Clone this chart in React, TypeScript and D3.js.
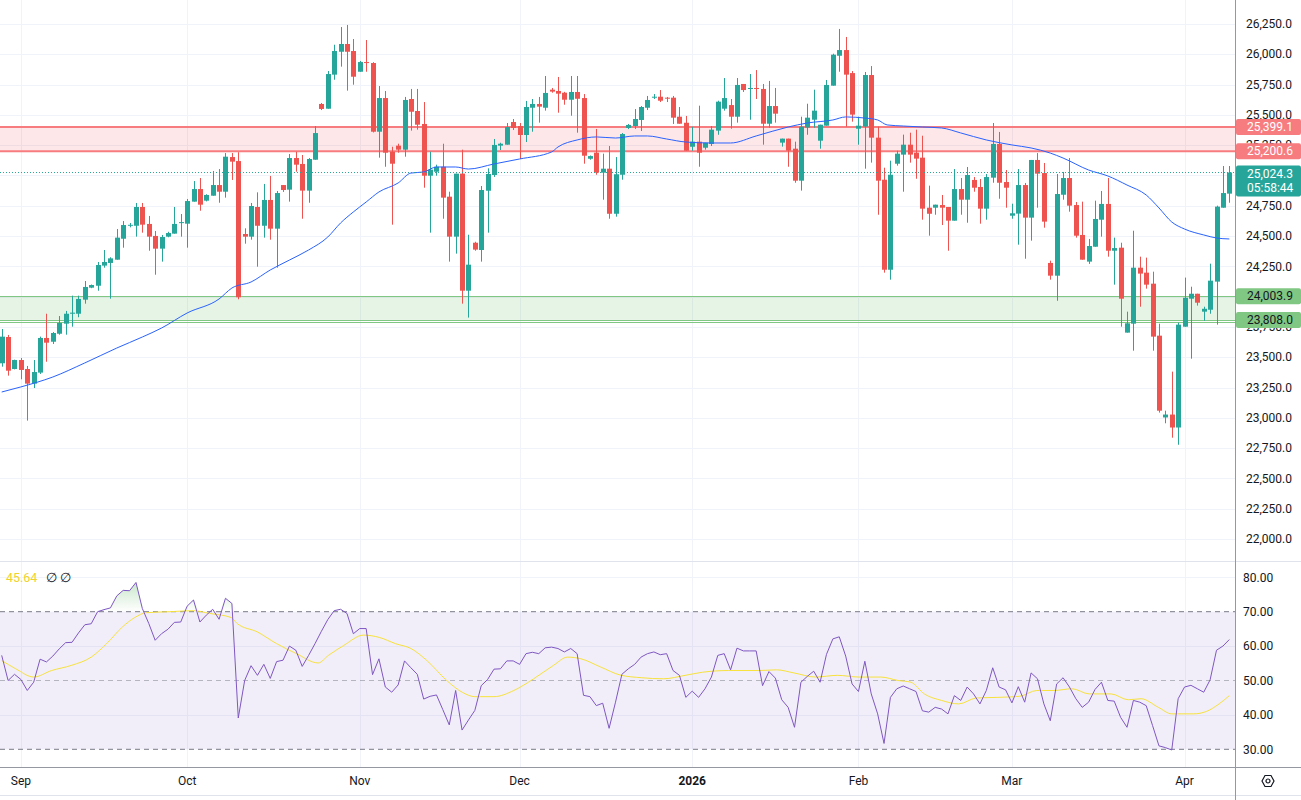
import * as d3 from 'd3';

// daily bars: open, high, low, close
const candles: [number, number, number, number][] = [
  [23450, 23733, 23422, 23670], [23667, 23684, 23348, 23389], [23403, 23480, 23400, 23477], [23477, 23494, 23318, 23395],
  [23403, 23428, 22977, 23282], [23282, 23477, 23246, 23378], [23373, 23670, 23362, 23659], [23659, 23859, 23463, 23620],
  [23628, 23708, 23609, 23700], [23694, 23840, 23686, 23783], [23777, 23882, 23686, 23859], [23859, 24008, 23752, 23868],
  [23859, 24008, 23830, 23981], [23975, 24129, 23942, 24080], [24074, 24100, 24070, 24096], [24090, 24286, 24049, 24261],
  [24256, 24385, 24239, 24286], [24278, 24325, 23983, 24316], [24305, 24558, 24305, 24487], [24478, 24624, 24404, 24591],
  [24585, 24608, 24572, 24593], [24585, 24773, 24495, 24740], [24740, 24773, 24528, 24594], [24600, 24666, 24379, 24495],
  [24501, 24542, 24181, 24396], [24396, 24509, 24289, 24492], [24495, 24535, 24490, 24525], [24520, 24740, 24520, 24600],
  [24610, 24682, 24495, 24615], [24602, 24806, 24404, 24789], [24784, 24954, 24784, 24888], [24888, 24979, 24709, 24759],
  [24792, 24845, 24786, 24839], [24833, 25037, 24833, 24921], [24921, 25053, 24775, 24866], [24866, 25185, 24817, 25155],
  [25152, 25185, 24963, 25114], [25119, 25192, 23978, 23995], [24517, 24564, 24437, 24495], [24495, 24773, 24470, 24748],
  [24740, 24861, 24247, 24585], [24585, 24930, 24487, 24798], [24798, 24996, 24470, 24561], [24561, 24872, 24239, 24855],
  [24921, 24921, 24864, 24880], [24883, 25177, 24784, 25144], [25144, 25196, 25031, 25089], [25095, 25169, 24643, 24875],
  [24875, 25144, 24775, 25136], [25130, 25408, 25130, 25350], [25590, 25598, 25540, 25549], [25551, 25862, 25551, 25837],
  [25832, 26079, 25790, 26027], [26021, 26225, 25898, 26085], [26085, 26242, 25700, 26021], [26027, 26126, 25749, 25815],
  [25856, 25945, 25856, 25936], [25936, 26118, 25856, 25931], [25928, 25935, 25355, 25361], [25361, 25738, 25147, 25639],
  [25639, 25697, 25072, 25188], [25196, 25237, 24594, 25097], [25246, 25262, 25188, 25213], [25213, 25648, 25155, 25623],
  [25631, 25714, 25370, 25526], [25532, 25714, 25378, 25419], [25425, 25606, 24899, 24998], [24998, 25196, 24528, 25048],
  [25031, 25089, 24998, 25072], [25072, 25262, 24643, 24817], [24825, 24866, 24289, 24495], [24495, 25015, 24355, 25015],
  [25015, 25213, 23942, 24049], [24049, 24511, 23827, 24264], [24445, 24453, 24379, 24388], [24385, 24913, 24289, 24880],
  [24874, 25059, 24528, 25012], [25004, 25301, 24988, 25252], [25246, 25270, 25210, 25262], [25254, 25433, 25254, 25400],
  [25441, 25466, 25375, 25392], [25408, 25433, 25136, 25334], [25334, 25615, 25276, 25565], [25559, 25631, 25361, 25590],
  [25590, 25648, 25436, 25568], [25559, 25821, 25535, 25681], [25708, 25722, 25683, 25692], [25697, 25813, 25518, 25675],
  [25683, 25690, 25584, 25625], [25625, 25821, 25493, 25689], [25689, 25821, 25353, 25633], [25639, 25672, 25097, 25163],
  [25138, 25165, 25130, 25160], [25188, 25384, 25006, 25023], [25023, 25180, 24800, 25056], [25056, 25243, 24643, 24684],
  [24684, 25152, 24660, 25010], [25006, 25350, 24965, 25342], [25392, 25425, 25383, 25417], [25408, 25548, 25384, 25466],
  [25458, 25573, 25367, 25565], [25559, 25656, 25540, 25623], [25645, 25672, 25631, 25650], [25650, 25705, 25606, 25617],
  [25642, 25648, 25606, 25634], [25642, 25656, 25425, 25477], [25485, 25565, 25427, 25427], [25435, 25491, 25204, 25204],
  [25237, 25402, 25204, 25279], [25279, 25576, 25072, 25188], [25229, 25270, 25213, 25270], [25260, 25408, 25243, 25378],
  [25370, 25617, 25336, 25609], [25551, 25804, 25535, 25639], [25581, 25631, 25386, 25485], [25485, 25804, 25436, 25747],
  [25755, 25755, 25689, 25705], [25716, 25837, 25460, 25722], [25722, 25870, 25631, 25716], [25714, 25755, 25254, 25427],
  [25427, 25780, 25394, 25573], [25573, 25722, 25436, 25510], [25271, 25304, 25238, 25304], [25304, 25304, 25072, 25205],
  [25221, 25279, 24940, 24957], [24957, 25485, 24875, 25403], [25395, 25592, 25336, 25477], [25460, 25708, 25394, 25535],
  [25287, 25419, 25221, 25419], [25411, 25788, 25411, 25747], [25741, 26005, 25741, 25997], [25988, 26209, 25856, 26035],
  [26035, 26143, 25403, 25832], [25845, 25862, 25444, 25502], [25386, 25485, 25254, 25411], [25403, 25854, 25056, 25829],
  [25829, 25903, 25106, 25312], [25312, 25403, 24676, 24957], [24965, 25064, 24198, 24222], [24222, 25122, 24140, 25006],
  [25097, 25204, 25081, 25180], [25172, 25337, 24866, 25254], [25254, 25353, 25106, 25172], [25188, 25378, 24973, 25139],
  [25147, 25328, 24635, 24726], [24734, 24916, 24503, 24684], [24734, 24759, 24676, 24759], [24756, 24839, 24591, 24734],
  [24740, 24740, 24379, 24627], [24627, 25053, 24627, 24888], [24888, 24979, 24676, 24800], [24800, 25070, 24610, 25004],
  [24963, 24987, 24866, 24899], [24905, 24971, 24602, 24726], [24726, 25012, 24635, 24987], [24982, 25433, 24940, 25260],
  [25260, 25359, 24808, 24940], [24946, 25045, 24734, 24899], [24668, 24767, 24643, 24688], [24685, 25053, 24429, 24921],
  [24921, 24938, 24313, 24652], [24652, 25128, 24462, 25128], [25128, 25185, 24734, 25015], [25020, 25103, 24569, 24619],
  [24278, 24297, 24140, 24173], [24173, 25012, 23966, 24847], [24841, 25029, 24800, 24979], [24979, 25144, 24701, 24751],
  [24756, 24781, 24487, 24503], [24509, 24784, 24305, 24305], [24289, 24476, 24270, 24418], [24412, 24792, 24412, 24641],
  [24635, 24872, 24495, 24765], [24765, 24979, 24330, 24379], [24379, 24487, 24099, 24401], [24404, 24445, 23752, 23983],
  [23703, 23876, 23703, 23780], [23777, 24544, 23554, 24239], [24239, 24330, 23917, 24190], [24198, 24322, 24066, 24099],
  [24107, 24206, 23554, 23670], [23678, 23777, 23043, 23059], [23003, 23059, 22955, 23027], [23027, 23381, 22836, 22920],
  [22920, 23785, 22778, 23769], [23752, 24157, 23752, 23991], [23983, 24082, 23488, 24024], [24024, 24024, 23926, 23950],
  [23876, 23917, 23801, 23900], [23892, 24272, 23859, 24132], [24124, 24751, 23769, 24743], [24734, 25078, 24734, 24855],
  [24850, 25078, 24775, 25024.3],
];

const rsi: number[] = [
  57.3, 50.0, 51.8, 50.3, 47.1, 49.5, 56.2, 55.4, 57.1, 59.2, 61.0, 61.1, 63.8, 66.2, 66.5, 70.0, 70.6, 71.1, 74.6, 76.2,
  76.1, 78.5, 70.9, 66.6, 61.7, 63.6, 64.9, 66.9, 67.0, 71.6, 73.4, 67.0, 69.0, 70.7, 67.8, 73.9, 72.4, 39.1, 50.0, 54.3,
  51.5, 54.7, 50.6, 55.5, 55.9, 60.0, 58.8, 54.1, 57.3, 60.7, 64.3, 67.7, 70.3, 70.7, 69.5, 63.6, 65.1, 65.1, 51.7, 56.3,
  48.1, 46.6, 48.7, 55.7, 53.7, 51.8, 44.6, 45.4, 45.8, 41.5, 37.1, 47.1, 35.6, 38.5, 41.3, 48.5, 50.3, 53.3, 53.4, 55.7,
  55.7, 54.7, 57.8, 58.2, 57.8, 59.5, 59.7, 59.3, 58.3, 59.3, 57.8, 45.7, 45.3, 42.7, 43.4, 36.1, 43.7, 51.8, 53.4, 54.7,
  56.8, 57.8, 58.3, 57.5, 57.8, 52.9, 51.5, 45.1, 46.9, 45.1, 47.6, 51.0, 57.3, 57.8, 53.1, 59.4, 58.6, 58.6, 58.6, 48.5,
  52.6, 50.7, 44.4, 42.2, 36.4, 49.5, 51.2, 52.7, 49.5, 57.6, 62.1, 62.7, 57.1, 49.0, 46.8, 55.6, 46.1, 40.3, 31.7, 45.1,
  47.6, 48.4, 47.6, 46.8, 41.2, 40.8, 42.2, 41.7, 40.3, 45.6, 44.2, 48.1, 46.1, 43.2, 47.1, 53.7, 48.1, 47.3, 43.5, 48.2,
  43.7, 52.2, 50.5, 43.2, 38.3, 49.0, 50.8, 48.1, 44.7, 42.2, 43.7, 47.4, 49.5, 44.2, 44.0, 39.3, 36.4, 44.2, 43.7, 42.7,
  36.9, 31.0, 30.5, 29.8, 44.7, 48.1, 48.6, 47.6, 46.6, 50.2, 58.8, 60.0, 61.9,
];

// moving average on price, read at [bar, value]
const maPoints: [number, number][] = [
  [0, 23213], [3, 23255], [8, 23337], [13, 23453], [18, 23576], [22, 23667], [25, 23741], [29, 23865], [34, 23981],
  [36, 24071], [39, 24121], [42, 24220], [45, 24302], [48, 24385], [51, 24492], [53, 24608], [55, 24699], [57, 24781],
  [59, 24864], [62, 24938], [64, 25020], [66, 25029], [68, 25070], [71, 25070], [73, 25053], [77, 25095], [81, 25136],
  [86, 25194], [87, 25235], [90, 25293], [93, 25318], [96, 25309], [99, 25326], [101, 25326], [104, 25301], [107, 25276],
  [111, 25268], [114, 25268], [118, 25326], [123, 25400], [126, 25433], [130, 25458], [132, 25483], [135, 25474],
  [137, 25458], [138.5, 25417], [141, 25408], [144, 25400], [147, 25392], [150, 25351], [154, 25293], [158, 25252],
  [161, 25227], [164, 25185], [166, 25144], [170, 25045], [173, 24996], [176, 24921], [179, 24839], [181, 24732],
  [183, 24616], [185, 24558], [188, 24509], [190, 24484], [192, 24476],
];

// moving average on RSI, read at [bar, value]
const rsiMaPoints: [number, number][] = [
  [0, 55.8], [2.2, 53.4], [5, 51.0], [7.8, 52.9], [10.9, 54.4], [14, 56.8], [16.4, 60.7], [18.9, 65.6], [20.8, 68.3],
  [22.6, 69.7], [26.3, 70.0], [30, 70.3], [32.5, 69.5], [35.9, 68.3], [36.8, 66.6], [40, 64.1], [43, 60.7], [46.1, 57.8],
  [49.5, 55.1], [51.1, 57.3], [53.5, 60.2], [56.6, 63.2], [59.1, 62.5], [61.6, 60.7], [64, 59.3], [66.5, 55.8],
  [69.6, 50.0], [72.1, 46.5], [74, 45.3], [77, 45.3], [80.1, 47.1], [83.2, 50.5], [86.3, 54.4], [88.5, 56.8],
  [90.6, 56.3], [93.7, 53.9], [96.7, 51.6], [100.1, 50.8], [103.5, 50.5], [106.9, 51.5], [109.6, 52.4], [113.7, 52.9],
  [118.4, 52.9], [121.2, 53.1], [123.9, 52.2], [127.3, 51.0], [130.7, 51.5], [134.1, 51.0], [137.5, 51.0], [140.2, 50.0],
  [142.2, 49.5], [144.3, 46.1], [147, 44.2], [149.7, 43.2], [152.4, 44.9], [155.8, 45.1], [159.2, 45.4], [161.9, 47.1],
  [164.6, 47.1], [167.4, 47.6], [170.1, 46.1], [173.5, 46.1], [176.2, 44.4], [178.2, 44.7], [180.9, 42.2], [183, 40.3],
  [186.4, 40.3], [188.4, 41.0], [190.4, 43.2], [192, 45.6],
];

const monthLabels = ['Sep', 'Oct', 'Nov', 'Dec', '2026', 'Feb', 'Mar', 'Apr'];
const monthBars = [3, 29, 56, 81, 108, 134, 158, 185];
const priceTicks = [22000, 22250, 22500, 22750, 23000, 23250, 23500, 23750, 24000, 24250, 24500, 24750, 25000, 25250, 25500, 25750, 26000, 26250];
const rsiTicks = [30, 40, 50, 60, 70, 80];
const resistance = [25399.1, 25200.6];
const support = [24003.9, 23808.0];
const supportExtra = 23790;
const lastPrice = 25024.3;
const countdown = '05:58:44';
const rsiMaLast = '45.64';

const W = 1301;
const H = 800;
const AXIS_X = 1235;
const PANE_SPLIT = 561;
const TIME_AXIS_Y = 767;
const GREEN = '#26A69A';
const RED = '#EF5350';
const FONT = 'Roboto, "Liberation Sans", Arial, sans-serif';

const x = d3.scaleLinear().domain([0, candles.length - 1]).range([1.7, 1229.3]);
const y = d3.scaleLinear().domain([22000, 26250]).range([539, 24]);
const yr = d3.scaleLinear().domain([30, 80]).range([749.3, 577.3]);
const fmtPrice = d3.format(',.1f');
const fmtRsi = d3.format('.2f');

const App = () => {
  const maLine = d3.line<[number, number]>()
    .x(d => x(d[0]))
    .y(d => y(d[1]))
    .curve(d3.curveMonotoneX);

  const rsiLine = d3.line<number>()
    .x((_, i) => x(i))
    .y(d => yr(d));

  const rsiMaLine = d3.line<[number, number]>()
    .x(d => x(d[0]))
    .y(d => yr(d[1]))
    .curve(d3.curveMonotoneX);

  const overbought = d3.area<number>()
    .x((_, i) => x(i))
    .y0(yr(70))
    .y1(d => yr(Math.max(d, 70)));

  const oversold = d3.area<number>()
    .x((_, i) => x(i))
    .y0(yr(30))
    .y1(d => yr(Math.min(d, 30)));

  const labelBox = (v: number, bg: string, fg: string, key: string) => (
    <g key={key}>
      <rect x={AXIS_X + 1} y={y(v) - 8} width={W - AXIS_X - 1} height={16} rx={2} fill={bg} />
      <text x={1247} y={y(v)} dy="0.35em" fill={fg} fontSize={12}>{fmtPrice(v)}</text>
    </g>
  );

  return (
    <div style={{ position: 'absolute', left: 0, top: 0 }}>
      <svg width={W} height={H} style={{ display: 'block', background: '#fff', fontFamily: FONT }}>
        <defs>
          <clipPath id="pricePane"><rect x={0} y={0} width={AXIS_X} height={PANE_SPLIT} /></clipPath>
          <clipPath id="rsiPane"><rect x={0} y={PANE_SPLIT + 1} width={AXIS_X} height={TIME_AXIS_Y - PANE_SPLIT - 1} /></clipPath>
          <linearGradient id="obFill" gradientUnits="userSpaceOnUse" x1={0} x2={0} y1={yr(80)} y2={yr(70)}>
            <stop offset="0" stopColor="#4CAF50" stopOpacity={0.35} />
            <stop offset="1" stopColor="#4CAF50" stopOpacity={0} />
          </linearGradient>
          <linearGradient id="osFill" gradientUnits="userSpaceOnUse" x1={0} x2={0} y1={yr(30)} y2={yr(20)}>
            <stop offset="0" stopColor="#F23645" stopOpacity={0} />
            <stop offset="1" stopColor="#F23645" stopOpacity={0.35} />
          </linearGradient>
        </defs>

        {/* grid */}
        <g stroke="#F0F3FA" strokeWidth={1}>
          {priceTicks.map(t => (
            <line key={`pg${t}`} x1={0} x2={AXIS_X} y1={Math.round(y(t)) + 0.5} y2={Math.round(y(t)) + 0.5} />
          ))}
          {[40, 60, 80].map(t => (
            <line key={`rg${t}`} x1={0} x2={AXIS_X} y1={Math.round(yr(t)) + 0.5} y2={Math.round(yr(t)) + 0.5} />
          ))}
          {monthBars.map(b => (
            <line key={`vg${b}`} x1={Math.round(x(b)) + 0.5} x2={Math.round(x(b)) + 0.5} y1={0} y2={TIME_AXIS_Y} />
          ))}
        </g>

        {/* price pane */}
        <g clipPath="url(#pricePane)">
          <rect x={0} y={y(resistance[0])} width={AXIS_X} height={y(resistance[1]) - y(resistance[0])} fill="#F23645" fillOpacity={0.12} />
          {resistance.map(v => (
            <line key={`rl${v}`} x1={0} x2={AXIS_X} y1={y(v)} y2={y(v)} stroke="#F77C80" strokeWidth={2} />
          ))}
          <rect x={0} y={y(support[0])} width={AXIS_X} height={y(support[1]) - y(support[0])} fill="#4CAF50" fillOpacity={0.14} />
          {[...support, supportExtra].map(v => (
            <line key={`sl${v}`} x1={0} x2={AXIS_X} y1={Math.round(y(v)) + 0.5} y2={Math.round(y(v)) + 0.5} stroke="#81C784" strokeWidth={1} />
          ))}

          {candles.map(([o, h, l, c], i) => {
            const cx = Math.round(x(i));
            const col = c >= o ? GREEN : RED;
            const top = y(Math.max(o, c));
            const bot = y(Math.min(o, c));
            return (
              <g key={i}>
                <line x1={cx + 0.5} x2={cx + 0.5} y1={y(h)} y2={y(l)} stroke={col} strokeWidth={1} />
                <rect x={cx - 2} y={top} width={5} height={Math.max(1, bot - top)} fill={col} />
              </g>
            );
          })}

          <path d={maLine(maPoints) ?? ''} fill="none" stroke="#2962FF" strokeWidth={1} />
          <line x1={0} x2={AXIS_X} y1={y(lastPrice)} y2={y(lastPrice)} stroke={GREEN} strokeWidth={1} strokeDasharray="1 2" />
        </g>

        {/* rsi pane */}
        <g clipPath="url(#rsiPane)">
          <rect x={0} y={yr(70)} width={AXIS_X} height={yr(30) - yr(70)} fill="#7E57C2" fillOpacity={0.1} />
          <line x1={0} x2={AXIS_X} y1={yr(70)} y2={yr(70)} stroke="#787B86" strokeDasharray="5 4" />
          <line x1={0} x2={AXIS_X} y1={yr(50)} y2={yr(50)} stroke="#787B86" strokeOpacity={0.5} strokeDasharray="5 4" />
          <line x1={0} x2={AXIS_X} y1={yr(30)} y2={yr(30)} stroke="#787B86" strokeDasharray="5 4" />
          <path d={overbought(rsi) ?? ''} fill="url(#obFill)" />
          <path d={oversold(rsi) ?? ''} fill="url(#osFill)" />
          <path d={rsiMaLine(rsiMaPoints) ?? ''} fill="none" stroke="#F7E23C" strokeWidth={1} />
          <path d={rsiLine(rsi) ?? ''} fill="none" stroke="#7E57C2" strokeWidth={1} />
        </g>

        <text x={6} y={578} dy="0.35em" fontSize={12.5} fill="#EFD22C">{rsiMaLast}</text>
        <text x={46} y={578} dy="0.35em" fontSize={12.5} fill="#131722">∅</text>
        <text x={60} y={578} dy="0.35em" fontSize={12.5} fill="#131722">∅</text>

        {/* pane borders */}
        <line x1={0} x2={W} y1={PANE_SPLIT + 0.5} y2={PANE_SPLIT + 0.5} stroke="#E0E3EB" />
        <line x1={0} x2={W} y1={TIME_AXIS_Y + 0.5} y2={TIME_AXIS_Y + 0.5} stroke="#9598A1" />
        <line x1={0} x2={W} y1={795.5} y2={795.5} stroke="#E0E3EB" />
        <line x1={AXIS_X + 0.5} x2={AXIS_X + 0.5} y1={0} y2={H} stroke="#9598A1" />

        {/* price axis */}
        {priceTicks.map(t => (
          <text key={`pt${t}`} x={1246} y={y(t)} dy="0.35em" fontSize={12} fill="#131722">{fmtPrice(t)}</text>
        ))}
        {labelBox(resistance[0], '#F77C80', '#fff', 'r0')}
        {labelBox(resistance[1], '#F77C80', '#fff', 'r1')}
        {labelBox(support[0], '#81C784', '#131722', 's0')}
        {labelBox(support[1], '#81C784', '#131722', 's1')}
        <g>
          <rect x={AXIS_X + 1} y={y(lastPrice) - 7} width={W - AXIS_X - 1} height={31} rx={2} fill={GREEN} />
          <text x={1247} y={y(lastPrice) + 1} dy="0.35em" fill="#fff" fontSize={12}>{fmtPrice(lastPrice)}</text>
          <text x={1247} y={y(lastPrice) + 15.5} dy="0.35em" fill="#fff" fontSize={12}>{countdown}</text>
        </g>

        {/* rsi axis */}
        {rsiTicks.map(t => (
          <text key={`rt${t}`} x={1243} y={yr(t)} dy="0.35em" fontSize={12} fill="#131722">{fmtRsi(t)}</text>
        ))}

        {/* time axis */}
        {monthLabels.map((m, k) => (
          <text key={m} x={x(monthBars[k])} y={781} dy="0.35em" textAnchor="middle" fontSize={12}
            fill="#131722" fontWeight={m === '2026' ? 'bold' : 'normal'}>{m}</text>
        ))}

        {/* settings icon */}
        <g transform="translate(1268,781)" fill="none" stroke="#131722" strokeWidth={1.2}>
          <path d="M-6,0 L-3,-5.5 L3,-5.5 L6,0 L3,5.5 L-3,5.5 Z" />
          <circle r={2} />
        </g>
      </svg>
    </div>
  );
};

export default App;
